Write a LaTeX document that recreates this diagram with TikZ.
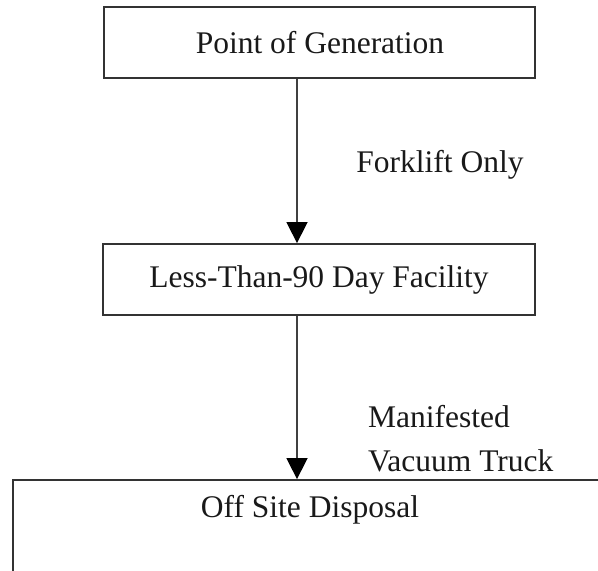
\documentclass[tikz,border=0pt]{standalone}
\usepackage{fontspec}
\setmainfont{Liberation Serif}
\usetikzlibrary{arrows.meta}
\begin{document}
\begin{tikzpicture}[x=1pt,y=1pt,
  box/.style={draw=black!80, line width=1.8pt, inner sep=0pt},
  lbl/.style={font=\fontsize{31.5}{38}\selectfont, inner sep=0pt, text=black!90},
  flow/.style={draw=black!75, line width=1.6pt, -{Triangle[width=21pt,length=21pt,black]}}]
\useasboundingbox (0,0) rectangle (598,571);
\clip (0,0) rectangle (598,571);
% boxes
\node[box, minimum width=431pt, minimum height=71pt] (gen) at (319.5,528.5) {};
\node[lbl] (gentext) at (320,528.5) {Point of Generation};
\node[box, minimum width=432pt, minimum height=71pt] (fac) at (319,291.5) {};
\node[lbl] (factext) at (319,291.5) {Less-Than-90 Day Facility};
\node[box, minimum width=620pt, minimum height=140pt] (off) at (323,21) {};
\node[lbl] (offtext) at (310,61) {Off Site Disposal};
% arrows
\coordinate (ax) at (297,0);
\draw[flow] (gen.south -| ax) -- (fac.north -| ax);
\draw[flow] (fac.south -| ax) -- (off.north -| ax);
% labels
\node[lbl] (fork) at (440,406) {Forklift Only};
\node[lbl, anchor=base west] (man) at (368,143) {Manifested};
\node[lbl, anchor=base west] (vac) at (368,99) {Vacuum Truck};
\end{tikzpicture}
\end{document}
